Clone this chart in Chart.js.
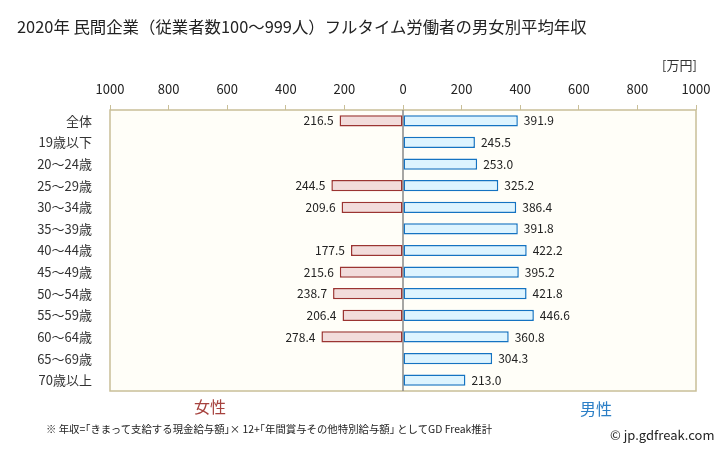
<!DOCTYPE html>
<html>
<head>
<meta charset="utf-8">
<script src="https://cdn.jsdelivr.net/npm/chart.js@4"></script>
<style>
  body { margin: 0; background: #fff; font-family: "Noto Sans CJK JP", sans-serif; }
  #wrap { position: relative; width: 728px; height: 451px; }
  .txt { position: absolute; white-space: nowrap; line-height: 1; }
</style>
</head>
<body>
<div id="wrap">
  <canvas id="chart" width="728" height="451"></canvas>
  <div class="txt" style="left:17px; top:18px; font-size:16.4px; color:#222;">2020年 民間企業（従業者数100～999人）フルタイム労働者の男女別平均年収</div>
  <div class="txt" style="left:662px; top:58px; font-size:13px; color:#333;">[万円]</div>
  <div class="txt" style="left:194px; top:398px; font-size:16px; color:#A6423E;">女性</div>
  <div class="txt" style="left:580px; top:400px; font-size:16px; color:#2C7FC6;">男性</div>
  <div class="txt" style="left:46px; top:424px; font-size:10.4px; color:#222;">※ 年収=｢きまって支給する現金給与額｣× 12+｢年間賞与その他特別給与額｣ としてGD Freak推計</div>
  <div class="txt" style="left:610px; top:428px; font-size:13px; color:#222;">© jp.gdfreak.com</div>
</div>
<script>
const categories = ['全体', '19歳以下', '20～24歳', '25～29歳', '30～34歳', '35～39歳', '40～44歳',
    '45～49歳', '50～54歳', '55～59歳', '60～64歳', '65～69歳', '70歳以上'];
const femaleValues = [216.5, null, null, 244.5, 209.6, null, 177.5, 215.6, 238.7, 206.4, 278.4, null, null];
const maleValues = [391.9, 245.5, 253.0, 325.2, 386.4, 391.8, 422.2, 395.2, 421.8, 446.6, 360.8, 304.3, 213.0];
const xTicks = [-1000, -800, -600, -400, -200, 0, 200, 400, 600, 800, 1000];

// cream plot background with tan frame, plus grey zero line
const frame = {
    id: 'frame',
    beforeDatasetsDraw(chart) {
        const { ctx, chartArea: a, scales } = chart;
        ctx.save();
        ctx.fillStyle = '#FFFEF8';
        ctx.fillRect(a.left, a.top, a.right - a.left, a.bottom - a.top);
        ctx.strokeStyle = '#C9BF98';
        ctx.lineWidth = 1.5;
        ctx.strokeRect(a.left, a.top, a.right - a.left, a.bottom - a.top);
        const x0 = scales.x.getPixelForValue(0);
        ctx.strokeStyle = '#888';
        ctx.lineWidth = 1.5;
        ctx.beginPath();
        ctx.moveTo(x0, a.top);
        ctx.lineTo(x0, a.bottom);
        ctx.stroke();
        ctx.restore();
    },
    afterDatasetsDraw(chart) {
        const { ctx } = chart;
        ctx.save();
        ctx.font = '12px "Noto Sans CJK JP", sans-serif';
        ctx.fillStyle = '#222';
        ctx.textBaseline = 'middle';
        chart.data.datasets.forEach((ds, di) => {
            const meta = chart.getDatasetMeta(di);
            meta.data.forEach((bar, i) => {
                const v = ds.data[i];
                if (v === null) return;
                const txt = Math.abs(v).toFixed(1);
                if (v < 0) {
                    ctx.textAlign = 'right';
                    ctx.fillText(txt, bar.x - 6, bar.y);
                } else {
                    ctx.textAlign = 'left';
                    ctx.fillText(txt, bar.x + 6, bar.y);
                }
            });
        });
        ctx.restore();
    }
};

new Chart(document.getElementById('chart'), {
    type: 'bar',
    data: {
        labels: categories,
        datasets: [
            {
                label: '女性',
                data: femaleValues.map(v => v === null ? null : -v),
                backgroundColor: '#F2DCDB',
                borderColor: '#9B3432',
                borderWidth: 1.5,
                borderSkipped: false,
                barPercentage: 0.52,
                categoryPercentage: 1
            },
            {
                label: '男性',
                data: maleValues,
                backgroundColor: '#DDF4FF',
                borderColor: '#1473C2',
                borderWidth: 1.5,
                borderSkipped: false,
                barPercentage: 0.52,
                categoryPercentage: 1
            }
        ]
    },
    options: {
        indexAxis: 'y',
        responsive: false,
        animation: false,
        layout: { padding: { left: 0, top: 70, right: 32, bottom: 60 } },
        plugins: { legend: { display: false }, tooltip: { enabled: false } },
        scales: {
            x: {
                position: 'top',
                stacked: true,
                min: -1000,
                max: 1000,
                afterBuildTicks(scale) { scale.ticks = xTicks.map(v => ({ value: v })); },
                afterFit(scale) { scale.height = 40; },
                ticks: {
                    callback: v => Math.abs(v),
                    color: '#222',
                    font: { size: 13, family: '"Noto Sans CJK JP", sans-serif' },
                    padding: 8,
                    maxRotation: 0
                },
                grid: { drawOnChartArea: false, drawTicks: true, tickLength: 5, color: '#C9BF98' },
                border: { display: false }
            },
            y: {
                stacked: true,
                afterFit(scale) { scale.width = 110; },
                ticks: {
                    color: '#333',
                    font: { size: 13, family: '"Noto Sans CJK JP", sans-serif' },
                    padding: 10
                },
                grid: { display: false },
                border: { display: false }
            }
        }
    },
    plugins: [frame]
});
</script>
</body>
</html>
